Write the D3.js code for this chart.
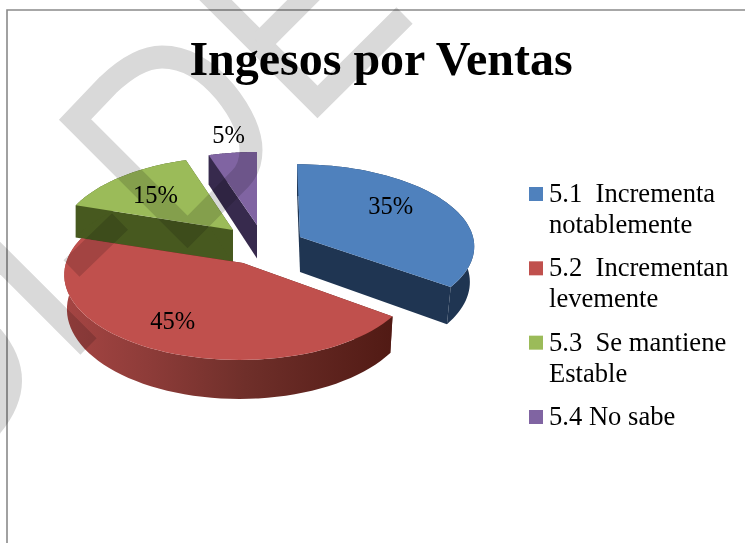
<!DOCTYPE html>
<html>
<head>
<meta charset="utf-8">
<script src="https://cdn.jsdelivr.net/npm/d3@7"></script>
<style>
html,body{margin:0;padding:0;background:#fff;overflow:hidden}
svg{display:block}
text{font-family:"Liberation Serif","Times New Roman",serif;fill:#000;white-space:pre}
</style>
</head>
<body>
<svg id="chart" width="745" height="543"></svg>
<script>
// ---- data ----
const chartTitle = "Ingesos por Ventas";
const categories = ["5.1  Incrementa notablemente", "5.2  Incrementan levemente", "5.3  Se mantiene Estable", "5.4 No sabe"];
const legendLines = [["5.1  Incrementa", "notablemente"], ["5.2  Incrementan", "levemente"], ["5.3  Se mantiene", "Estable"], ["5.4 No sabe"]];
const shareValues = [35, 45, 15, 5];
const topColors = ["#4f81bd", "#c0504d", "#9bbb59", "#8064a2"];
const wallColors = ["#1f3552", "#5c2019", "#47591f", "#372a4d"];

// ---- layout of the exploded 3-D pie ----
const sliceApex = [[300, 237], [243, 263], [233, 230], [257, 225]];
const sliceLean = [0.04, 0, 0, 0];
const sliceRadiusX = [173, 173.5, 172.5, 177];
const sliceRadiusY = [80, 83.3, 83.3, 83.3];
const slicePerspective = [0.1, 0.141, 0.141, 0.141];
const sliceDepth = [35, 33.5, 33.5, 33.5];
const sliceArcShift = [0, -3.5, 0, 0];
const sliceDropShrink = [0.975, 0.985, 1, 1];
const labelNudge = [[1.5, -2], [-17, 18], [-8.5, 6], [-13, -36]];
const labelRadius = 0.6;

const svg = d3.select("#chart");
const color = d3.scaleOrdinal().domain(categories).range(topColors);
const wall = d3.scaleOrdinal().domain(categories).range(wallColors);
const pieLayout = d3.pie().sort(null).value(d => d)(shareValues);
const lineGen = d3.line();

function project(i, theta, r, drop) {
  const u = r * Math.sin(theta), v = -r * Math.cos(theta);
  const w = 1 - slicePerspective[i] * v;
  const sy = sliceRadiusY[i] * v / w;
  let dx = sliceRadiusX[i] * u / w + sliceLean[i] * sy + sliceArcShift[i] * r;
  if (drop) dx *= sliceDropShrink[i];
  return [
    sliceApex[i][0] + dx,
    sliceApex[i][1] + sy + (drop ? sliceDepth[i] / w : 0)
  ];
}
const arcAngles = (a, b) => d3.range(0, 61).map(k => a + (b - a) * k / 60);

const defs = svg.append("defs");
const grad = defs.append("linearGradient").attr("id", "redRim")
  .attr("gradientUnits", "userSpaceOnUse").attr("x1", 65).attr("x2", 393).attr("y1", 0).attr("y2", 0);
[[0, "#a54543"], [0.25, "#8e3c39"], [0.55, "#6f2f2a"], [1, "#511a14"]].forEach(s =>
  grad.append("stop").attr("offset", s[0]).attr("stop-color", s[1]));

// ---- chart frame (top and left rule only) ----
svg.append("path").attr("d", "M745,10H7V543").attr("fill", "none").attr("stroke", "#8a8a8a").attr("stroke-width", 1.6);

// ---- title ----
svg.append("text").attr("x", 381).attr("y", 75).attr("text-anchor", "middle")
  .attr("font-size", 48).attr("font-weight", "bold").text(chartTitle);

// ---- slices, back to front ----
const drawOrder = [3, 2, 1, 0];
const gPie = svg.append("g");
drawOrder.forEach(i => {
  const s = pieLayout[i], g = gPie.append("g");
  const angles = arcAngles(s.startAngle, s.endAngle);
  const apexTop = project(i, 0, 0, false), apexLow = project(i, 0, 0, true);
  const rimFill = i === 1 ? "url(#redRim)" : wall(categories[i]);
  [s.startAngle, s.endAngle].forEach(a => {
    g.append("path").attr("fill", wall(categories[i])).attr("d",
      lineGen([apexTop, project(i, a, 1, false), project(i, a, 1, true), apexLow]) + "Z");
  });
  const rim = angles.map(a => project(i, a, 1, false)).concat(angles.slice().reverse().map(a => project(i, a, 1, true)));
  g.append("path").attr("fill", rimFill).attr("d", lineGen(rim) + "Z");
  g.append("path").attr("fill", color(categories[i])).attr("d",
    lineGen([apexTop].concat(angles.map(a => project(i, a, 1, false)))) + "Z");
});

// ---- data labels ----
pieLayout.forEach((s, i) => {
  const p = project(i, (s.startAngle + s.endAngle) / 2, labelRadius, false);
  svg.append("text").attr("x", p[0] + labelNudge[i][0]).attr("y", p[1] + labelNudge[i][1])
    .attr("text-anchor", "middle").attr("font-size", 24.5).text(shareValues[i] + "%");
});

// ---- legend ----
const legendY = d3.scaleLinear().domain([0, 3]).range([202, 425]);
categories.forEach((c, i) => {
  const y = legendY(i);
  svg.append("rect").attr("x", 529).attr("y", y - 15).attr("width", 14).attr("height", 14).attr("fill", color(c));
  legendLines[i].forEach((t, k) => {
    svg.append("text").attr("x", 549).attr("y", y + k * 31).attr("font-size", 26.6)
      .attr("xml:space", "preserve").text(t);
  });
});

// ---- grey watermark lying over the page ----
const mark = svg.append("g").style("mix-blend-mode", "multiply");
const bands = [
  "M200,-15.5 L317.5,102 L404.5,15.5",
  "M259.5,44 L325,-21.5",
  "M187.5,232 L75,119.5 L108,85 C128,66 146,57 162,57 C185,57 205,68 225,92 C243,114 251,135 251,150 C251,160 248,171 240,179 Z",
  "M-10,248 L88.5,346.5",
  "M71.5,268.5 L120,221.5"
];
mark.selectAll("path.band").data(bands).join("path").attr("class", "band").attr("d", d => d)
  .attr("fill", "none").attr("stroke", "#d9d9d9").attr("stroke-width", 23).attr("stroke-linejoin", "miter");
mark.append("path").attr("d", "M-2,326 Q46,380 -2,436 Z").attr("fill", "#d9d9d9");
</script>
</body>
</html>
